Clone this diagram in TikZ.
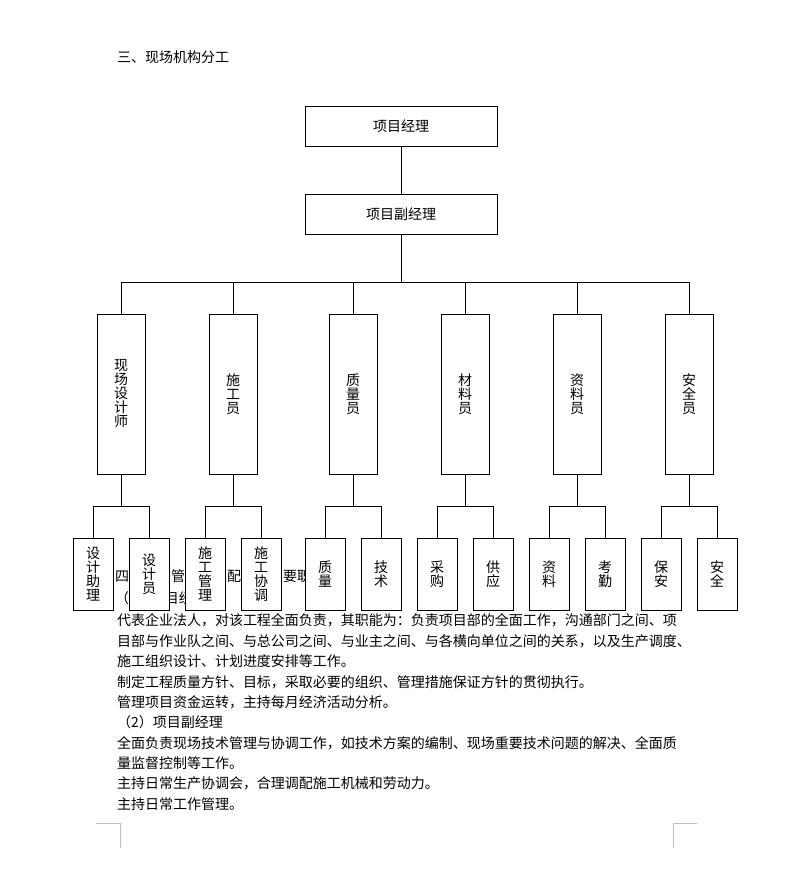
\documentclass[tikz,border=0pt]{standalone}
\usepackage{fontspec}
\setmainfont{Noto Sans CJK SC}
\usepackage{tikz}
\usetikzlibrary{positioning}

\begin{document}
\begin{tikzpicture}[
    x=1pt, y=-1pt,
    node distance=64pt,
    every node/.style={outer sep=0pt, inner sep=0pt},
    cnFont/.style={font=\fontsize{14pt}{14pt}\selectfont},
    chartBox/.style={cnFont, draw=black, fill=white, line width=1pt, align=center},
    mgrBox/.style={chartBox, minimum width=192pt, minimum height=40pt},
    roleBox/.style={chartBox, minimum width=48pt, minimum height=160pt},
    subBox/.style={chartBox, minimum width=40pt, minimum height=72pt},
    % Page text and lines
    bodyLine/.style={cnFont, anchor=west},
    link/.style={draw=black, line width=1pt},
    cropMark/.style={draw=black!25, line width=1pt}
]
    \useasboundingbox [fill=white] (0,0) rectangle (795,879);

    % Page text (partly hidden behind the chart)
    \node (title) [bodyLine] at (117,57) {三、现场机构分工};
    \node (sec4) [bodyLine] at (115,576) {四、项目管理人员配备及主要职责};
    \node (pmHead) [bodyLine] at (115,598) {（1）项目经理};
    \node (pmDuty1) [bodyLine] at (117,620) {代表企业法人，对该工程全面负责，其职能为：负责项目部的全面工作，沟通部门之间、项};
    \node (pmDuty2) [bodyLine] at (117,641) {目部与作业队之间、与总公司之间、与业主之间、与各横向单位之间的关系，以及生产调度、};
    \node (pmDuty3) [bodyLine] at (117,661) {施工组织设计、计划进度安排等工作。};
    \node (pmDuty4) [bodyLine] at (117,682) {制定工程质量方针、目标，采取必要的组织、管理措施保证方针的贯彻执行。};
    \node (pmDuty5) [bodyLine] at (117,702) {管理项目资金运转，主持每月经济活动分析。};
    \node (dpmHead) [bodyLine] at (117,722) {（2）项目副经理};
    \node (dpmDuty1) [bodyLine] at (117,743) {全面负责现场技术管理与协调工作，如技术方案的编制、现场重要技术问题的解决、全面质};
    \node (dpmDuty2) [bodyLine] at (117,763) {量监督控制等工作。};
    \node (dpmDuty3) [bodyLine] at (117,783) {主持日常生产协调会，合理调配施工机械和劳动力。};
    \node (dpmDuty4) [bodyLine] at (117,804) {主持日常工作管理。};

    % Managers
    \node (pm) [mgrBox] at (401,126) {项目经理};
    \node (dpm) [mgrBox, below=48pt of pm] {项目副经理};
    \coordinate [below=48pt of dpm] (bus);

    % Site roles
    \node (site) [roleBox] at (121,394) {现\\场\\设\\计\\师};
    \node (constr) [roleBox, right=of site] {施\\工\\员};
    \node (quality) [roleBox, right=72pt of constr] {质\\量\\员};
    \node (material) [roleBox, right=of quality] {材\\料\\员};
    \node (records) [roleBox, right=of material] {资\\料\\员};
    \node (safety) [roleBox, right=of records] {安\\全\\员};

    % Sub roles
    \node (siteA) [subBox, below=64pt of site, xshift=-28pt] {设\\计\\助\\理};
    \node (siteB) [subBox, below=64pt of site, xshift=28pt] {设\\计\\员};
    \node (constrA) [subBox, below=64pt of constr, xshift=-28pt] {施\\工\\管\\理};
    \node (constrB) [subBox, below=64pt of constr, xshift=28pt] {施\\工\\协\\调};
    \node (qualityA) [subBox, below=64pt of quality, xshift=-28pt] {质\\量};
    \node (qualityB) [subBox, below=64pt of quality, xshift=28pt] {技\\术};
    \node (materialA) [subBox, below=64pt of material, xshift=-28pt] {采\\购};
    \node (materialB) [subBox, below=64pt of material, xshift=28pt] {供\\应};
    \node (recordsA) [subBox, below=64pt of records, xshift=-28pt] {资\\料};
    \node (recordsB) [subBox, below=64pt of records, xshift=28pt] {考\\勤};
    \node (safetyA) [subBox, below=64pt of safety, xshift=-28pt] {保\\安};
    \node (safetyB) [subBox, below=64pt of safety, xshift=28pt] {安\\全};

    % Junctions under each role
    \coordinate [below=32pt of site] (siteJ);
    \coordinate [below=32pt of constr] (constrJ);
    \coordinate [below=32pt of quality] (qualityJ);
    \coordinate [below=32pt of material] (materialJ);
    \coordinate [below=32pt of records] (recordsJ);
    \coordinate [below=32pt of safety] (safetyJ);

    % Connect lines
    \draw [link] (pm) -- (dpm);
    \draw [link] (dpm) -- (bus);
    \draw [link] (site) |- (bus);
    \draw [link] (constr) |- (bus);
    \draw [link] (quality) |- (bus);
    \draw [link] (material) |- (bus);
    \draw [link] (records) |- (bus);
    \draw [link] (safety) |- (bus);

    \draw [link] (site) -- (siteJ);
    \draw [link] (siteA) |- (siteJ);
    \draw [link] (siteB) |- (siteJ);
    \draw [link] (constr) -- (constrJ);
    \draw [link] (constrA) |- (constrJ);
    \draw [link] (constrB) |- (constrJ);
    \draw [link] (quality) -- (qualityJ);
    \draw [link] (qualityA) |- (qualityJ);
    \draw [link] (qualityB) |- (qualityJ);
    \draw [link] (material) -- (materialJ);
    \draw [link] (materialA) |- (materialJ);
    \draw [link] (materialB) |- (materialJ);
    \draw [link] (records) -- (recordsJ);
    \draw [link] (recordsA) |- (recordsJ);
    \draw [link] (recordsB) |- (recordsJ);
    \draw [link] (safety) -- (safetyJ);
    \draw [link] (safetyA) |- (safetyJ);
    \draw [link] (safetyB) |- (safetyJ);

    % Page corner marks
    \draw [cropMark] (96,823) -- (120,823) -- (120,848);
    \draw [cropMark] (697,823) -- (673,823) -- (673,848);
\end{tikzpicture}
\end{document}
